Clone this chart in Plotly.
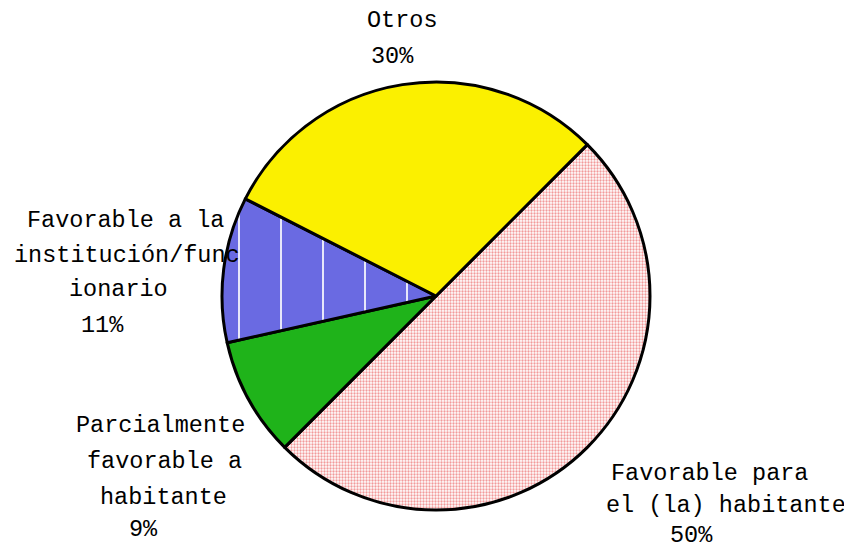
import plotly.graph_objects as go

# slices, clockwise from the line at 45 degrees
labels = ["Favorable para el (la) habitante", "Parcialmente favorable a habitante",
          "Favorable a la institución/funcionario", "Otros"]
values = [50, 9, 11, 30]
label_lines = [["Favorable para", "el (la) habitante"],
               ["Parcialmente", "favorable a", "habitante"],
               ["Favorable a la", "institución/func", "ionario"],
               ["Otros"]]

colors = ["#ffffff", "#1fb31a", "#6a6ae2", "#fbf000"]
W, H = 852, 548
OFF = 8  # page body margin

cx, cy, r = 436 - OFF, 296 - OFF, 214

fig = go.Figure()
fig.add_trace(go.Pie(
    labels=labels, values=values, sort=False, direction="clockwise", rotation=45,
    textinfo="none", hoverinfo="label+percent",
    marker=dict(colors=colors, line=dict(color="black", width=3),
                pattern=dict(shape=[".", "", "|", ""],
                             fgcolor=["#f29a9a", "#1fb31a", "#ffffff", "#fbf000"],
                             bgcolor=["#ffffff", "#1fb31a", "#6a6ae2", "#fbf000"],
                             size=[3, 8, 42, 8], solidity=[0.45, 0.3, 0.04, 0.3],
                             fillmode="replace")),
    domain=dict(x=[(cx - r) / W, (cx + r) / W], y=[(H - cy - r) / H, (H - cy + r) / H]),
    showlegend=False,
))

# label text placement (pixel centres of each line, last one is the percentage)
label_pos = [[(709, 473), (726, 505), (691, 535)],
             [(160, 425), (164, 461), (163, 497), (143, 529)],
             [(125, 220), (127, 255), (118, 289), (102, 325)],
             [(402, 21), (392, 57)]]

for lines, v, pos in zip(label_lines, values, label_pos):
    texts = lines + [f"{v}%"]
    for t, (x, y) in zip(texts, pos):
        fig.add_annotation(x=(x - OFF) / W, y=1 - (y - OFF) / H, xref="paper", yref="paper", text=t,
                           showarrow=False, xanchor="center", yanchor="middle",
                           font=dict(family="Liberation Mono, Courier New, monospace", size=23.5, color="black"))

fig.update_layout(width=W, height=H, margin=dict(l=0, r=0, t=0, b=0),
                  paper_bgcolor="white", plot_bgcolor="white")
fig.write_html("out.html")
